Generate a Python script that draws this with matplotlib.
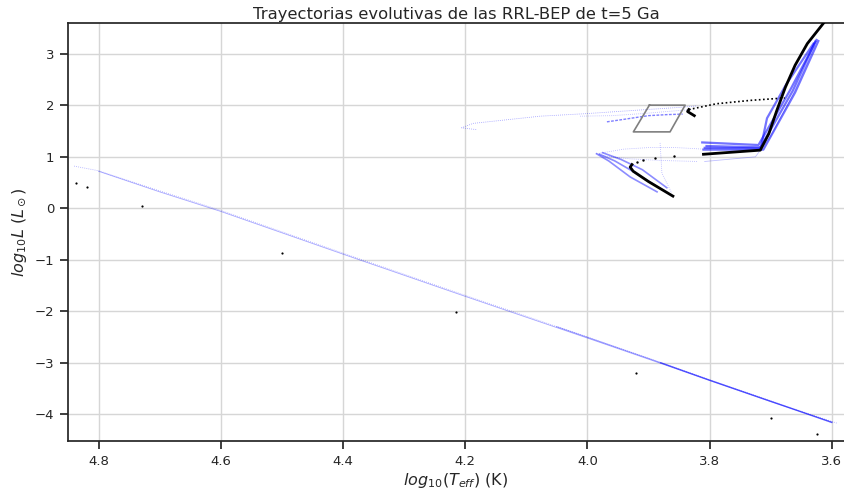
import matplotlib
matplotlib.use("Agg")
import matplotlib.pyplot as plt

# ---------------- data (log Teff, log L) ----------------
# long diagonal (cooling/faint) sequence, drawn in blue
diag_T  = [4.840, 4.800, 4.700, 4.600, 4.400, 4.200, 4.000, 3.800, 3.700, 3.590]
diag_L  = [0.820, 0.730, 0.340, -0.040, -0.870, -1.690, -2.500, -3.330, -3.740, -4.180]
diag2_T = [4.800, 4.700, 4.600, 4.400, 4.200, 4.000, 3.900, 3.800, 3.700, 3.600]
diag2_L = [0.720, 0.320, -0.060, -0.890, -1.710, -2.520, -2.930, -3.345, -3.755, -4.150]
diag3_T = [4.050, 4.000, 3.900, 3.800, 3.700, 3.600]
diag3_L = [-2.300, -2.505, -2.915, -3.335, -3.745, -4.160]
diag4_T = [3.880, 3.800, 3.700, 3.600]
diag4_L = [-3.000, -3.340, -3.750, -4.160]

# blue RGB tracks
rgb1_T = [3.812, 3.720, 3.702, 3.668, 3.625]
rgb1_L = [1.280, 1.230, 1.600, 2.300, 3.270]
rgb2_T = [3.810, 3.712, 3.695, 3.660, 3.622]
rgb2_L = [1.140, 1.140, 1.500, 2.250, 3.250]
rgb3_T = [3.805, 3.716, 3.706, 3.675, 3.630]
rgb3_L = [1.210, 1.185, 1.750, 2.400, 3.200]
rgb5_T = [3.808, 3.718, 3.699, 3.664, 3.627]
rgb5_L = [1.175, 1.165, 1.550, 2.280, 3.240]
rgb4_T = [3.808, 3.725, 3.700, 3.664, 3.628]
rgb4_L = [0.910, 1.000, 1.400, 2.200, 3.150]

# blue HB tracks (upper branch)
hb1_T = [4.182, 4.206, 4.187, 4.077, 4.001, 3.914, 3.850, 3.820]
hb1_L = [1.530, 1.563, 1.650, 1.790, 1.840, 1.910, 1.960, 1.990]
hb2_T = [3.968, 3.945, 3.920, 3.900, 3.870, 3.844]
hb2_L = [1.680, 1.720, 1.765, 1.800, 1.820, 1.830]
hb3_T = [4.012, 3.960, 3.910, 3.870, 3.830]
hb3_L = [1.790, 1.800, 1.840, 1.880, 1.920]

# blue fan (lower branch)
fan1_T = [3.886, 3.930, 3.965, 3.985]
fan1_L = [0.320, 0.610, 0.920, 1.060]
fan2_T = [3.876, 3.920, 3.955, 3.980]
fan2_L = [0.350, 0.680, 0.920, 1.050]
fan3_T = [3.870, 3.910, 3.945, 3.975]
fan3_L = [0.400, 0.750, 0.950, 1.080]
fan4_T = [3.985, 3.940, 3.900, 3.855, 3.810]
fan4_L = [1.060, 1.150, 1.180, 1.180, 1.150]
fan5_T = [3.881, 3.878, 3.862]
fan5_L = [1.270, 0.680, 0.300]
fan6_T = [3.975, 3.930, 3.880, 3.820]
fan6_L = [1.020, 0.960, 0.930, 0.910]

# black reference track
blk_rgb_T = [3.810, 3.717, 3.703, 3.690, 3.676, 3.660, 3.640, 3.612]
blk_rgb_L = [1.050, 1.130, 1.450, 1.900, 2.350, 2.780, 3.200, 3.620]
blk_low_T = [3.860, 3.900, 3.925, 3.930, 3.927]
blk_low_L = [0.237, 0.520, 0.720, 0.800, 0.850]
blk_dots_T = [3.919, 3.909, 3.889, 3.858]
blk_dots_L = [0.900, 0.940, 0.975, 1.010]
blk_hook_T = [3.825, 3.836, 3.834]
blk_hook_L = [1.800, 1.880, 1.918]
blk_hb_T = [3.834, 3.789, 3.733, 3.677]
blk_hb_L = [1.918, 2.031, 2.097, 2.144]

# isolated black points
iso_T = [4.837, 4.819, 4.729, 4.500, 4.215, 3.920, 3.700, 3.624]
iso_L = [0.490, 0.410, 0.040, -0.870, -2.020, -3.200, -4.070, -4.390]

# instability strip box
box_T = [3.8985, 3.840, 3.8647, 3.9247, 3.8985]
box_L = [2.004, 2.004, 1.485, 1.485, 2.004]

xticks = [4.8, 4.6, 4.4, 4.2, 4.0, 3.8, 3.6]
yticks = [-4, -3, -2, -1, 0, 1, 2, 3]

# ---------------- figure ----------------
dark = "#262626"
plt.rcParams.update({
    "font.family": "DejaVu Sans",
    "axes.edgecolor": dark,
    "xtick.color": dark,
    "ytick.color": dark,
    "axes.labelcolor": dark,
    "text.color": dark,
})

fig = plt.figure(figsize=(8.44, 4.94), dpi=100)
ax = fig.add_axes([68 / 844, 1 - 441 / 494, 1 - 68 / 844, (441 - 23) / 494])

ax.grid(True, color="#d6d6d6", lw=1.0, zorder=0)
ax.set_axisbelow(True)

blue = (0.0, 0.0, 1.0)
# diagonal
ax.plot(diag_T, diag_L, color=blue, alpha=0.35, lw=0.6, ls=(0, (1, 1.5)), zorder=2)
ax.plot(diag2_T, diag2_L, color=blue, alpha=0.35, lw=0.6, zorder=2)
ax.plot(diag3_T, diag3_L, color=blue, alpha=0.3, lw=0.8, zorder=2)
ax.plot(diag4_T, diag4_L, color=blue, alpha=0.45, lw=1.0, zorder=2)

for T, L in [(rgb1_T, rgb1_L), (rgb2_T, rgb2_L), (rgb3_T, rgb3_L), (rgb5_T, rgb5_L)]:
    ax.plot(T, L, color=blue, alpha=0.55, lw=1.6, zorder=2)
ax.plot(rgb4_T, rgb4_L, color=blue, alpha=0.25, lw=0.6, zorder=2)

ax.plot(hb1_T, hb1_L, color=blue, alpha=0.4, lw=0.6, ls=(0, (1, 1.5)), zorder=2)
ax.plot(hb2_T, hb2_L, color=blue, alpha=0.5, lw=1.0, ls=(0, (2, 1)), zorder=2)
ax.plot(hb3_T, hb3_L, color=blue, alpha=0.3, lw=0.6, ls=(0, (1, 1.5)), zorder=2)

for T, L in [(fan1_T, fan1_L), (fan2_T, fan2_L), (fan3_T, fan3_L)]:
    ax.plot(T, L, color=blue, alpha=0.45, lw=1.2, zorder=2)
for T, L in [(fan4_T, fan4_L), (fan5_T, fan5_L), (fan6_T, fan6_L)]:
    ax.plot(T, L, color=blue, alpha=0.3, lw=0.6, ls=(0, (1, 1.5)), zorder=2)

# black track
ax.plot(blk_rgb_T, blk_rgb_L, color="black", lw=2.0, zorder=3)
ax.plot(blk_low_T, blk_low_L, color="black", lw=2.0, zorder=3)
ax.scatter(blk_dots_T, blk_dots_L, s=3, color="black", lw=0, zorder=3)
ax.plot(blk_hook_T, blk_hook_L, color="black", lw=2.0, zorder=3)
ax.plot(blk_hb_T, blk_hb_L, color="black", lw=1.2, ls=(0, (1, 1.5)), zorder=3)
ax.scatter(iso_T, iso_L, s=2.5, color="black", lw=0, zorder=3)

# box
ax.plot(box_T, box_L, color="#7f7f7f", lw=1.2, zorder=4)

ax.set_xlim(4.85, 3.58)
ax.set_ylim(-4.52, 3.6)
ax.set_xticks(xticks)
ax.set_xticklabels([f"{v:.1f}" for v in xticks])
ax.set_yticks(yticks)
ax.set_yticklabels([f"\u2212{abs(v)}" if v < 0 else f"{v}" for v in yticks])
ax.tick_params(direction="out", length=6, width=1.25, labelsize=9.5, pad=4)
for s in ["left", "bottom", "top"]:
    ax.spines[s].set_linewidth(1.25)
ax.spines["right"].set_visible(False)

ax.set_xlabel(r"$log_{10}(T_{eff})$ (K)", fontsize=11.5, labelpad=2)
ax.set_ylabel(r"$log_{10}L$ ($L_\odot$)", fontsize=11.5, labelpad=4)
ax.set_title("Trayectorias evolutivas de las RRL-BEP de t=5 Ga", fontsize=11.8, pad=3)

fig.savefig("out.png", dpi=100)
